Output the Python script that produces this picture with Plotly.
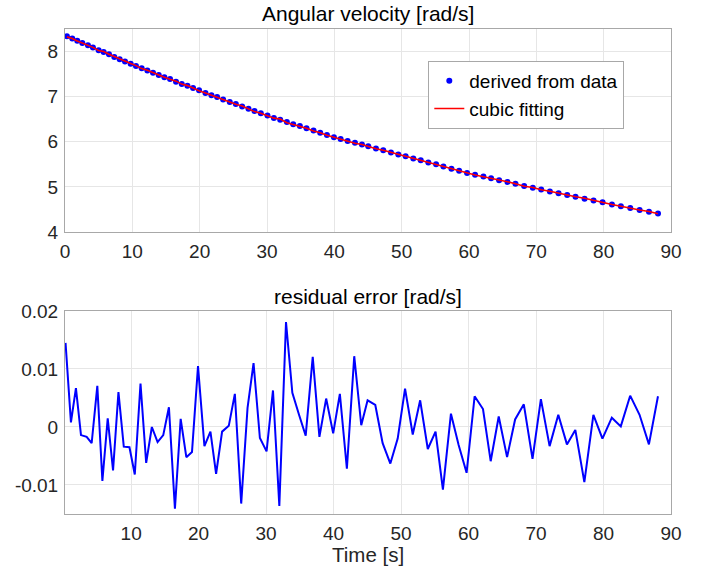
import plotly.graph_objects as go

# Time stamps [s]
time_s = [0.28, 1.08, 1.82, 2.57, 3.41, 4.15, 4.99, 5.74, 6.53, 7.32,
          8.12, 8.91, 9.75, 10.54, 11.39, 12.23, 13.07, 13.92, 14.76, 15.60,
          16.49, 17.34, 18.18, 19.02, 19.91, 20.86, 21.75, 22.59, 23.48, 24.47,
          25.37, 26.31, 27.25, 28.14, 29.08, 30.07, 31.02, 31.96, 32.95, 33.89,
          34.88, 35.87, 36.91, 37.90, 38.90, 39.94, 40.93, 41.97, 43.06, 44.10,
          45.04, 46.18, 47.27, 48.41, 49.50, 50.59, 51.73, 52.83, 53.96, 55.11,
          56.20, 57.39, 58.53, 59.71, 60.90, 62.14, 63.28, 64.47, 65.71, 66.90,
          68.19, 69.48, 70.72, 72.01, 73.30, 74.58, 75.82, 77.16, 78.50, 79.84,
          81.23, 82.56, 83.95, 85.34, 86.73, 88.07]

# Angular velocity derived from data [rad/s]
omega = [8.34, 8.29, 8.24, 8.19, 8.14, 8.09, 8.03, 7.99, 7.94, 7.88,
         7.83, 7.78, 7.73, 7.68, 7.63, 7.58, 7.53, 7.48, 7.43, 7.39,
         7.33, 7.28, 7.24, 7.19, 7.14, 7.08, 7.03, 6.99, 6.94, 6.88,
         6.84, 6.78, 6.73, 6.68, 6.63, 6.58, 6.53, 6.49, 6.44, 6.39,
         6.35, 6.30, 6.25, 6.20, 6.15, 6.10, 6.06, 6.02, 5.98, 5.94,
         5.90, 5.85, 5.81, 5.76, 5.72, 5.68, 5.63, 5.59, 5.54, 5.50,
         5.45, 5.40, 5.36, 5.31, 5.27, 5.23, 5.19, 5.15, 5.11, 5.07,
         5.02, 4.98, 4.94, 4.90, 4.86, 4.82, 4.78, 4.74, 4.70, 4.66,
         4.61, 4.57, 4.53, 4.49, 4.45, 4.41]

# Residual error [rad/s]
residual = [0.0145, 0.0008, 0.0067, -0.0014, -0.0017, -0.0028, 0.0071, -0.0093, 0.0015, -0.0075,
            0.0060, -0.0034, -0.0035, -0.0082, 0.0075, -0.0062, 0.0000, -0.0026, -0.0014, 0.0034,
            -0.0141, 0.0014, -0.0052, -0.0043, 0.0105, -0.0033, -0.0008, -0.0081, -0.0008, 0.0002,
            0.0057, -0.0132, 0.0033, 0.0110, -0.0019, -0.0042, 0.0063, -0.0136, 0.0181, 0.0059,
            0.0021, -0.0015, 0.0121, -0.0017, 0.0049, -0.0011, 0.0057, -0.0072, 0.0122, 0.0003,
            0.0046, 0.0038, -0.0028, -0.0063, -0.0020, 0.0066, -0.0013, 0.0046, -0.0038, -0.0008,
            -0.0108, 0.0023, -0.0031, -0.0079, 0.0053, 0.0031, -0.0059, 0.0018, -0.0052, 0.0013,
            0.0039, -0.0055, 0.0048, -0.0033, 0.0021, -0.0030, -0.0005, -0.0095, 0.0021, -0.0020,
            0.0016, 0.0001, 0.0054, 0.0021, -0.0030, 0.0053]

# cubic fit = data - residual
cubic_fit = [w - r for w, r in zip(omega, residual)]

top_yticks = [4, 5, 6, 7, 8]
bottom_yticks = [-0.01, 0, 0.01, 0.02]
bottom_yticklabels = ["-0.01", "0", "0.01", "0.02"]
top_xticks = [0, 10, 20, 30, 40, 50, 60, 70, 80, 90]
bottom_xticks = [10, 20, 30, 40, 50, 60, 70, 80, 90]

FONT = "Liberation Sans, Arial, Helvetica, sans-serif"
TICKC = "#262626"
AXC = "#a8a8a8"
GRIDC = "#e6e6e6"

fig = go.Figure()
fig.add_trace(go.Scatter(x=time_s, y=omega, mode="markers", name="derived from data",
                         marker=dict(color="#0000ff", size=6), xaxis="x", yaxis="y"))
fig.add_trace(go.Scatter(x=time_s, y=cubic_fit, mode="lines", name="cubic fitting",
                         line=dict(color="#ff0000", width=1.6), xaxis="x", yaxis="y"))
fig.add_trace(go.Scatter(x=time_s, y=residual, mode="lines", showlegend=False,
                         line=dict(color="#0000ff", width=2), xaxis="x2", yaxis="y2"))

axis_common = dict(showline=True, linecolor=AXC, linewidth=1, mirror=True,
                   showgrid=True, gridcolor=GRIDC, gridwidth=1, zeroline=False,
                   ticks="", tickfont=dict(family=FONT, size=19, color=TICKC))

fig.update_layout(
    width=710, height=574,
    margin=dict(l=65, r=39, t=29, b=60, autoexpand=False),
    paper_bgcolor="white", plot_bgcolor="white",
    font=dict(family=FONT, color=TICKC),
    xaxis=dict(domain=[0, 1], range=[0, 90], tickvals=top_xticks, anchor="y",
               ticklabelstandoff=2, **axis_common),
    yaxis=dict(domain=[0.5814, 1], range=[4, 8.5], tickvals=top_yticks, anchor="x",
               ticklabelstandoff=2, **axis_common),
    xaxis2=dict(domain=[0, 1], range=[0.2, 90], tickvals=bottom_xticks, anchor="y2",
                ticklabelstandoff=2, **axis_common),
    yaxis2=dict(domain=[0, 0.4186], range=[-0.015, 0.02], tickvals=bottom_yticks,
                ticktext=bottom_yticklabels, anchor="x2", ticklabelstandoff=2, **axis_common),
    legend=dict(x=0.5995, y=0.934, xanchor="left", yanchor="top",
                bgcolor="white", bordercolor=AXC, borderwidth=1,
                font=dict(family=FONT, size=19, color="#000000"),
                itemwidth=30, tracegroupgap=0),
    showlegend=True,
    annotations=[
        dict(text="Angular velocity [rad/s]", x=0.5, y=1.031, xref="paper", yref="paper",
             xanchor="center", yanchor="middle", showarrow=False,
             font=dict(family=FONT, size=21, color="#000000")),
        dict(text="residual error [rad/s]", x=0.5, y=0.4482, xref="paper", yref="paper",
             xanchor="center", yanchor="middle", showarrow=False,
             font=dict(family=FONT, size=21, color="#000000")),
        dict(text="Time [s]", x=0.5, y=-0.0845, xref="paper", yref="paper",
             xanchor="center", yanchor="middle", showarrow=False,
             font=dict(family=FONT, size=20.5, color="#262626")),
    ],
)

# remove the browser's default 8px body margin so the figure fills the window
fig.write_html("out.html", config={"displayModeBar": False},
               post_script="document.body.style.margin='0';document.body.style.overflow='hidden';")
